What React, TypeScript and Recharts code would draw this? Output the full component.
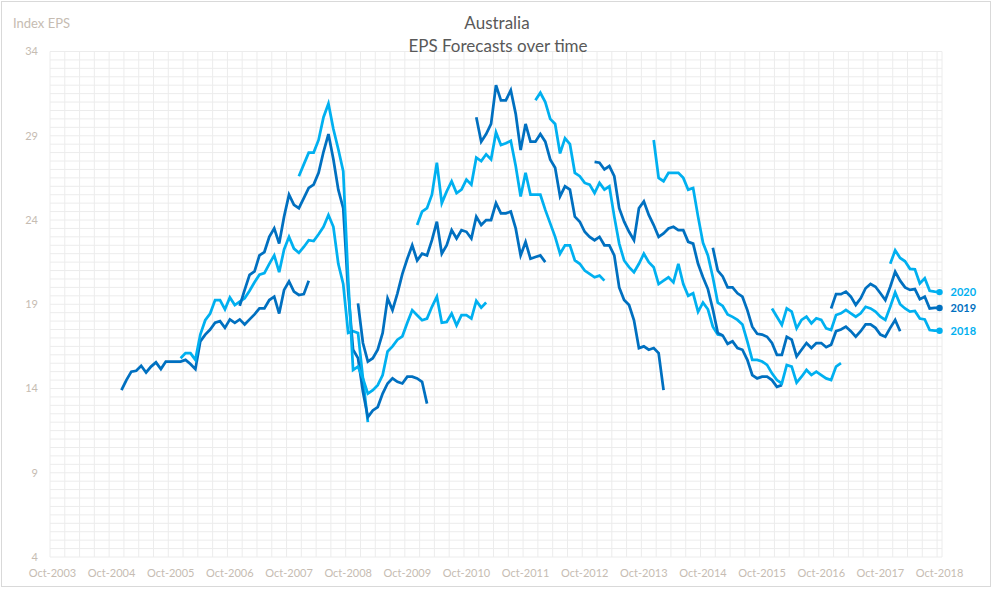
import React from 'react';
import { LineChart, Line, XAxis, YAxis, CartesianGrid } from 'recharts';

const DARK = '#0070C0';
const LIGHT = '#00B0F0';
const TICK_COLOR = '#c6bcb2';
const FONT = 'Lato, "Noto Sans", sans-serif';

// x tick labels, one every 12 months starting Oct-2003 (month index 0)
const xTickLabels = [
  'Oct-2003', 'Oct-2004', 'Oct-2005', 'Oct-2006', 'Oct-2007', 'Oct-2008', 'Oct-2009', 'Oct-2010',
  'Oct-2011', 'Oct-2012', 'Oct-2013', 'Oct-2014', 'Oct-2015', 'Oct-2016', 'Oct-2017', 'Oct-2018',
];
const yTicks = [4, 9, 14, 19, 24, 29, 34];

// forecast years and the month index (0 = Oct-2003) where each series starts
const seriesNames = ['2007', '2008', '2009', '2010', '2011', '2012', '2013', '2014', '2015', '2016', '2017', '2018', '2019', '2020'];
const seriesStartMonth = [14, 26, 38, 50, 62, 74, 86, 98, 110, 122, 134, 146, 158, 170];
const labelledSeries = ['2018', '2019', '2020'];

const eps2007 = [13.9, 14.5, 15.0, 15.05, 15.35, 14.95, 15.3, 15.55, 15.15, 15.6, 15.6, 15.6, 15.6, 15.7, 15.45, 15.15, 16.8, 17.2, 17.5, 17.9, 18.0, 17.6, 18.1, 17.9, 18.1, 17.8, 18.1, 18.4, 18.75, 18.75, 19.25, 19.45, 18.45, 19.85, 20.35, 19.75, 19.55, 19.6, 20.4];
const eps2008 = [15.8, 16.1, 16.1, 15.7, 17.2, 18.05, 18.45, 19.25, 19.25, 18.7, 19.4, 18.95, 19.15, 19.35, 19.8, 20.3, 20.75, 20.85, 21.4, 21.9, 20.9, 22.25, 23.0, 22.3, 22.05, 22.4, 22.8, 22.75, 23.15, 23.6, 24.3, 23.6, 21.4, 20.2, 17.3, 17.4, 17.3, 14.6, 12.0];
const eps2009 = [18.9, 19.85, 20.75, 20.95, 21.9, 22.1, 23.0, 23.5, 22.6, 24.2, 25.5, 24.9, 24.7, 25.3, 25.9, 26.1, 26.8, 28.05, 29.1, 27.6, 25.8, 24.7, 19.8, 16.3, 15.8, 13.8, 12.3, 12.7, 12.9, 13.7, 14.3, 14.6, 14.4, 14.3, 14.7, 14.7, 14.6, 14.4, 13.1];
const eps2010 = [26.6, 27.3, 28.0, 28.0, 28.75, 30.1, 30.9, 29.4, 28.2, 26.9, 20.5, 15.1, 15.3, 14.6, 13.7, 13.9, 14.2, 14.8, 16.2, 16.5, 16.9, 17.1, 17.9, 18.65, 18.35, 18.05, 18.15, 18.85, 19.45, 17.9, 17.95, 18.45, 17.75, 18.35, 18.35, 18.15, 19.2, 18.8, 19.1];
const eps2011 = [19.05, 16.7, 15.6, 15.8, 16.3, 17.3, 19.35, 18.65, 19.65, 20.8, 21.7, 22.5, 21.6, 22.0, 21.9, 22.8, 23.9, 22.0, 22.5, 23.4, 22.9, 23.4, 23.3, 22.9, 24.2, 23.7, 24.0, 24.0, 25.0, 24.4, 24.4, 24.5, 23.5, 21.9, 22.7, 21.7, 21.8, 21.9, 21.5];
const eps2012 = [23.7, 24.5, 24.7, 25.5, 27.4, 25.0, 25.7, 26.3, 25.6, 25.8, 26.4, 26.1, 27.7, 27.5, 27.9, 27.6, 29.2, 28.45, 28.55, 28.7, 27.2, 25.4, 26.8, 25.5, 25.5, 25.5, 24.6, 23.8, 23.0, 22.0, 22.5, 22.5, 21.6, 21.4, 21.0, 20.8, 20.6, 20.7, 20.4];
const eps2013 = [30.1, 28.65, 29.1, 29.7, 32.0, 31.1, 31.1, 31.7, 30.3, 28.15, 29.7, 28.65, 28.65, 29.1, 28.65, 27.6, 27.1, 25.4, 26.0, 25.8, 24.2, 23.9, 23.3, 23.0, 22.8, 23.0, 22.5, 22.5, 21.9, 20.0, 19.25, 18.95, 18.05, 16.4, 16.5, 16.3, 16.4, 16.1, 13.9];
const eps2014 = [31.1, 31.55, 31.0, 30.0, 29.7, 27.95, 28.85, 28.5, 26.8, 26.6, 26.2, 26.1, 25.6, 26.2, 25.8, 26.0, 24.2, 22.6, 21.6, 21.2, 20.9, 21.4, 22.0, 21.5, 21.2, 20.2, 20.4, 20.6, 20.3, 21.4, 20.2, 19.5, 19.65, 18.55, 19.1, 18.7, 17.67, 17.2, 17.15];
const eps2015 = [27.45, 27.4, 27.0, 27.2, 26.6, 24.7, 23.9, 23.3, 22.8, 24.7, 25.1, 24.3, 23.7, 23.0, 23.2, 23.5, 23.6, 23.4, 23.4, 22.7, 22.6, 21.4, 20.6, 19.9, 18.7, 17.3, 17.15, 16.65, 16.8, 16.4, 16.3, 15.7, 14.8, 14.6, 14.7, 14.7, 14.5, 14.1, 14.2];
const eps2016 = [28.75, 26.5, 26.3, 26.8, 26.8, 26.8, 26.5, 25.8, 25.9, 24.2, 22.65, 21.9, 20.6, 19.1, 18.9, 18.4, 18.25, 18.07, 17.8, 16.8, 15.7, 15.7, 15.6, 15.4, 14.9, 14.5, 14.3, 15.4, 15.3, 14.35, 14.7, 15.1, 14.8, 15.0, 14.8, 14.6, 14.5, 15.3, 15.5];
const eps2017 = [22.35, 21.0, 20.65, 20.0, 20.0, 19.65, 19.45, 18.65, 17.67, 17.25, 17.2, 17.07, 16.7, 16.0, 16.0, 17.07, 16.9, 15.9, 16.3, 16.7, 16.4, 16.7, 16.7, 16.45, 16.6, 17.4, 17.5, 17.67, 17.4, 17.07, 17.4, 17.8, 17.8, 17.6, 17.2, 17.07, 17.6, 18.07, 17.4];
const eps2018 = [18.75, 18.26, 17.77, 18.75, 18.56, 17.57, 18.07, 18.26, 17.87, 18.17, 18.07, 17.57, 17.47, 18.36, 18.46, 18.66, 18.46, 18.26, 18.46, 18.85, 18.75, 18.56, 18.26, 18.07, 18.85, 19.7, 19.0, 18.75, 18.56, 18.6, 18.15, 18.1, 17.47, 17.43, 17.43];
const eps2019 = [18.75, 19.6, 19.6, 19.75, 19.45, 18.96, 19.35, 19.95, 20.2, 20.04, 19.65, 19.25, 20.04, 20.93, 20.4, 20.0, 19.85, 19.9, 19.3, 19.45, 18.75, 18.78, 18.78];
const eps2020 = [21.4, 22.2, 21.75, 21.55, 21.1, 21.07, 20.24, 20.54, 19.8, 19.75, 19.72];

const seriesValues = [eps2007, eps2008, eps2009, eps2010, eps2011, eps2012, eps2013, eps2014, eps2015, eps2016, eps2017, eps2018, eps2019, eps2020];

const MONTHS = xTickLabels.length * 12 - 11; // 181 monthly categories
const LAST = MONTHS - 1;

const data = Array.from({ length: MONTHS }, (_, m) => {
  const row: Record<string, number | null> = { m };
  seriesNames.forEach((name, i) => {
    const v = seriesValues[i][m - seriesStartMonth[i]];
    row[name] = v === undefined ? null : v;
  });
  return row;
});

const Y_MIN = yTicks[0];
const Y_MAX = yTicks[yTicks.length - 1];
const xDomain: [number, number] = [-0.5, LAST + 0.5];
const xTicks = xTickLabels.map((_, i) => i * 12);
const gridX: number[] = [];
for (let v = -0.5; v <= LAST + 0.5 + 1e-9; v += 3) gridX.push(v);
gridX.push(LAST + 0.5);
const gridY: number[] = [];
for (let v = Y_MIN; v <= Y_MAX + 1e-9; v += 0.5) gridY.push(v);

const horizontalGen = (props: any) => {
  const { yAxis, offset } = props;
  const scale = yAxis && yAxis.scale;
  if (typeof scale === 'function') return gridY.map((v) => scale(v));
  return gridY.map((v) => offset.top + (offset.height * (Y_MAX - v)) / (Y_MAX - Y_MIN));
};

const makeDot = (name: string, color: string) => (props: any) => {
  const { cx, cy, index } = props;
  const key = `dot-${name}-${index}`;
  if (!labelledSeries.includes(name) || index !== LAST || cx == null || cy == null) return <g key={key} />;
  return (
    <g key={key}>
      <circle cx={cx} cy={cy} r={3.2} fill={color} stroke="none" />
      <text x={cx + 11} y={cy} dy="0.36em" fill={color} fontSize={11} fontWeight={700} fontFamily={FONT}>
        {name}
      </text>
    </g>
  );
};

export default function App() {
  return (
    <div style={{ position: 'absolute', left: 0, top: 0, width: 993, height: 589, background: '#fff' }}>
      <LineChart width={993} height={589} data={data} margin={{ top: 51.5, right: 51, left: 0, bottom: 0 }}>
        <XAxis xAxisId="g" type="number" dataKey="m" domain={xDomain} ticks={gridX} interval={0} hide />
        <CartesianGrid xAxisId="g" yAxisId={0} stroke="#ececec" strokeWidth={1} horizontalCoordinatesGenerator={horizontalGen} />
        <XAxis
          xAxisId={0}
          type="number"
          dataKey="m"
          domain={xDomain}
          ticks={xTicks}
          interval={0}
          height={32}
          axisLine={false}
          tickLine={false}
          tickSize={6}
          tickMargin={6}
          tickFormatter={(v: number) => xTickLabels[Math.round(v / 12)]}
          tick={{ fill: TICK_COLOR, fontSize: 11, fontFamily: FONT }}
        />
        <YAxis
          yAxisId={0}
          type="number"
          domain={[Y_MIN, Y_MAX]}
          ticks={yTicks}
          interval={0}
          width={50}
          axisLine={false}
          tickLine={false}
          tickSize={6}
          tickMargin={6}
          tick={{ fill: TICK_COLOR, fontSize: 11, fontFamily: FONT }}
        />
        {seriesNames.map((name, i) => {
          const color = i % 2 === 0 ? DARK : LIGHT;
          return (
            <Line
              key={name}
              xAxisId={0}
              yAxisId={0}
              type="linear"
              dataKey={name}
              stroke={color}
              strokeWidth={2.75}
              dot={makeDot(name, color)}
              activeDot={false}
              connectNulls={false}
              isAnimationActive={false}
            />
          );
        })}
      </LineChart>
      <svg width={993} height={589} style={{ position: 'absolute', left: 0, top: 0, pointerEvents: 'none' }}>
        <rect x={1.5} y={1.5} width={989} height={585} fill="none" stroke="#d9d9d9" strokeWidth={1} />
        <text x={13} y={23} dy="0.35em" fill={TICK_COLOR} fontSize={13} fontFamily={FONT}>Index EPS</text>
        <text x={497} y={23} dy="0.35em" textAnchor="middle" fill="#595959" fontSize={17} fontFamily={FONT}>Australia</text>
        <text x={498} y={46.5} dy="0.35em" textAnchor="middle" fill="#595959" fontSize={17} fontFamily={FONT}>EPS Forecasts over time</text>
      </svg>
    </div>
  );
}
